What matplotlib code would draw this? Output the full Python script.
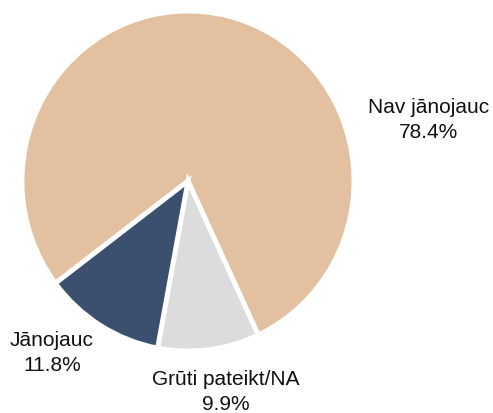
import matplotlib
matplotlib.use("Agg")
import matplotlib.pyplot as plt

# dati
labels = ["Nav jānojauc", "Grūti pateikt/NA", "Jānojauc"]
shares = [78.4, 9.9, 11.8]
colors = ["#E3C1A0", "#DCDCDC", "#3A506E"]

W, H = 493, 414
sy = 1.024  # aplis references attēlā ir nedaudz izstiepts vertikāli
fig = plt.figure(figsize=(W / 100, H / 100), dpi=100)
ax = fig.add_axes([0, 0, 1, 1])


def py(y):
    return (H - y) / sy


cx, cy, r = 188, py(182), 166
ax.pie(shares, colors=colors, startangle=217, counterclock=False,
       center=(cx, cy), radius=r, frame=True,
       wedgeprops=dict(edgecolor="white", linewidth=3.5))
ax.set_aspect("auto")
ax.set_xlim(0, W)
ax.set_ylim(0, H / sy)
ax.axis("off")

# etiķetes
label_pos = [(429, py(120)), (226, py(392)), (52, py(353))]
for lab, v, (x, y) in zip(labels, shares, label_pos):
    ax.text(x, y, f"{lab}\n{v:.1f}%", ha="center", va="center",
            fontsize=15, family="Liberation Sans", color="#111111",
            linespacing=1.4)

fig.savefig("out.png", dpi=100)
